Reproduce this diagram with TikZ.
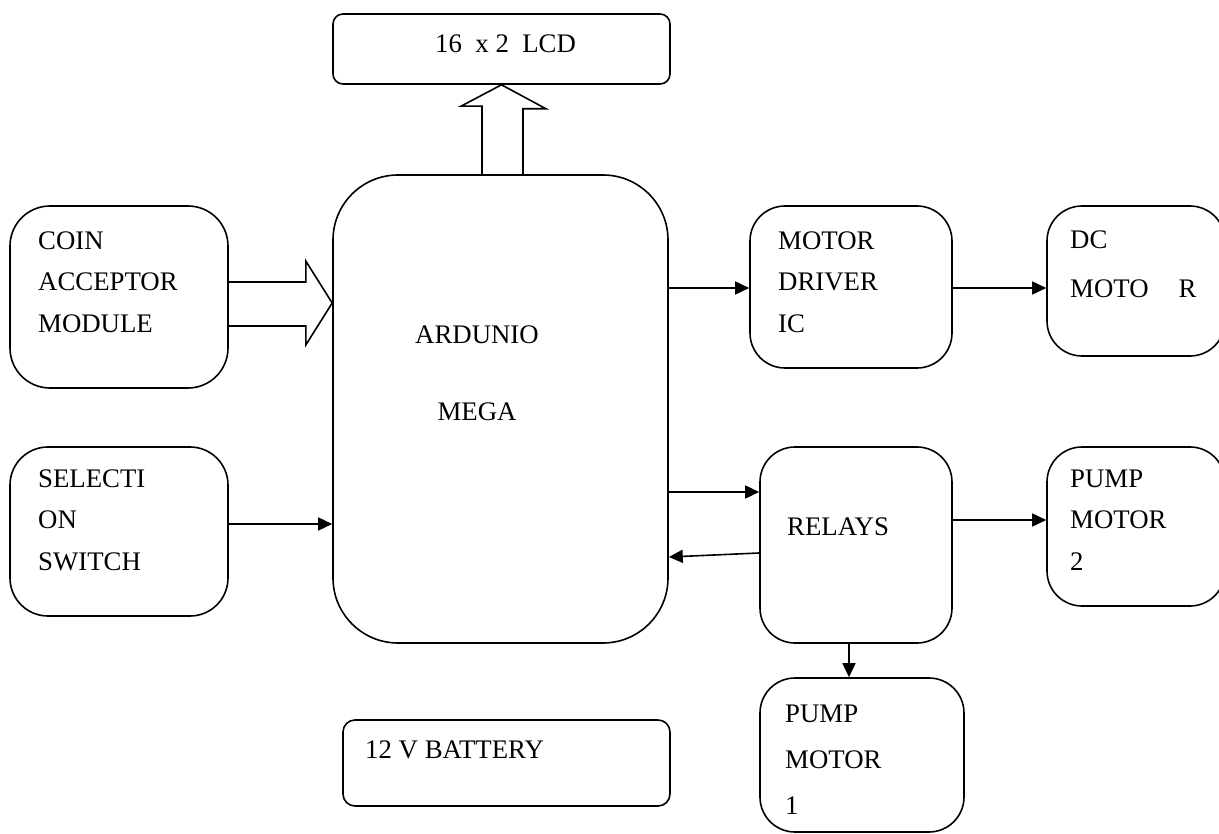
\documentclass[tikz,border=0pt]{standalone}
\usepackage{fontspec}
\setmainfont{Liberation Serif}
\usetikzlibrary{arrows.meta,calc}
\begin{document}
\begin{tikzpicture}[x=1pt,y=-1pt,
  box/.style={draw,line width=1.6pt,inner sep=0pt},
  lbl/.style={inner sep=0pt,anchor=north west,align=left,font=\fontsize{26.8}{41.5}\selectfont},
  clbl/.style={inner sep=0pt,font=\fontsize{26.8}{41.5}\selectfont},
  conn/.style={line width=1.6pt,-{Triangle[length=14pt,width=13pt]}},
  blk/.style={line width=1.6pt,line join=miter}]
\path[use as bounding box] (0,0) rectangle (1219,834);
\clip (0,0) rectangle (1219,834);
% boxes
\node[box,minimum width=337,minimum height=70,rounded corners=10] (lcd) at (501.5,49) {};
\node[box,minimum width=335,minimum height=468,rounded corners=65] (ard) at (500.5,409) {};
\node[box,minimum width=218,minimum height=182,rounded corners=40] (coin) at (119,297) {};
\node[box,minimum width=218,minimum height=169,rounded corners=38] (sel) at (119,531.5) {};
\node[box,minimum width=202,minimum height=162,rounded corners=35] (drv) at (851,287) {};
\node[box,minimum width=178,minimum height=150,rounded corners=35] (dc) at (1136,281) {};
\node[box,minimum width=192,minimum height=196,rounded corners=35] (rel) at (856,545) {};
\node[box,minimum width=178,minimum height=159,rounded corners=35] (pm2) at (1136,526.5) {};
\node[box,minimum width=204,minimum height=154,rounded corners=35] (pm1) at (862,755) {};
\node[box,minimum width=327,minimum height=86,rounded corners=12] (bat) at (506.5,763) {};
% texts
\node[clbl,anchor=west] (lcdT) at (435,44) {16\ \ x 2\ \ LCD};
\node[lbl] (coinT) at (38,231.5) {COIN\\ACCEPTOR\\MODULE};
\node[lbl] (selT) at (38,469.5) {SELECTI\\ON\\SWITCH};
\node[clbl] (ardT) at (477,335) {ARDUNIO};
\node[clbl] (megaT) at (477,412) {MEGA};
\node[lbl] (drvT) at (778,231.5) {MOTOR\\DRIVER\\IC};
\node[lbl] (dcT) at (1070,230.5) {DC\\[7.5pt]MOTO\hspace{30pt}R};
\node[clbl,anchor=west] (relT) at (787,527) {RELAYS};
\node[lbl] (pm2T) at (1070,469.5) {PUMP\\MOTOR\\2};
\node[lbl,font=\fontsize{26.8}{46}\selectfont] (pm1T) at (785,704.5) {PUMP\\MOTOR\\1};
\node[clbl,anchor=west] (batT) at (365,750) {12 V BATTERY};
% block arrows
\draw[blk] ($(ard.north)+(-18.5,0)$) -- ++(0,-68) -- ++(-21,0) -- (lcd.south)
  -- ($(lcd.south)+(44.5,24)$) -- ++(-23,0) -- ($(ard.north)+(22.5,0)$);
\draw[blk] ($(coin.east)+(0,-15)$) -- ++(77,0) -- ++(0,-21) -- ($(ard.west)+(0,-106)$)
  -- ($(coin.east)+(77,48)$) -- ++(0,-19) -- ($(coin.east)+(0,29)$);
% connectors
\draw[conn] (sel.east |- 0,524) -- (ard.west |- 0,524);
\draw[conn] (ard.east |- 0,288) -- (drv.west |- 0,288);
\draw[conn] (drv.east |- 0,288) -- (dc.west |- 0,288);
\draw[conn] (ard.east |- 0,492) -- (rel.west |- 0,492);
\draw[conn] (rel.west |- 0,553) -- (ard.east |- 0,557);
\draw[conn] (rel.east |- 0,520) -- (pm2.west |- 0,520);
\draw[conn] (rel.south -| 849,0) -- (pm1.north -| 849,0);
\end{tikzpicture}
\end{document}
